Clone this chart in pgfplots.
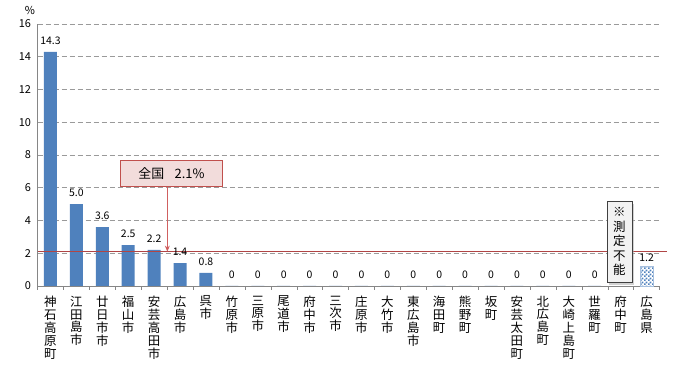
\documentclass[border=0pt]{standalone}
\usepackage{fontspec}
\setmainfont{Noto Sans CJK JP}
\usepackage{pgfplots}
\pgfplotsset{compat=1.18}
\usetikzlibrary{patterns.meta,shadows,arrows.meta}
\definecolor{barblue}{HTML}{4F81BD}
\definecolor{axisgray}{HTML}{868686}
\definecolor{gridgray}{HTML}{9A9A9A}
\definecolor{refred}{HTML}{B04545}
\definecolor{calloutfill}{HTML}{F2DCDB}
\definecolor{calloutborder}{HTML}{C0504D}
\definecolor{arrowred}{HTML}{D06060}
\tikzdeclarepattern{
  name=finecheck,
  type=uncolored,
  bottom left={(0,0)},
  top right={(4bp,4bp)},
  tile size={(4bp,4bp)},
  code={\fill (0,0) rectangle (2bp,2bp); \fill (2bp,2bp) rectangle (4bp,4bp);}
}
\begin{document}
\begin{tikzpicture}
\useasboundingbox (0,0) rectangle (691bp,365bp);
\begin{axis}[
  at={(37.5bp,79bp)}, anchor=south west,
  scale only axis, width=622bp, height=262bp,
  xmin=-0.5, xmax=23.5, ymin=0, ymax=16,
  clip=false,
  ytick={0,2,...,16},
  ymajorgrids, grid style={gridgray, line width=0.7bp, dash pattern=on 5bp off 3bp},
  axis x line*=bottom, axis y line*=left,
  axis line style={draw=axisgray, line width=0.8bp, -},
  ytick style={draw=none},
  xtick={0,...,23},
  major x tick style={draw=none},
  minor xtick={-0.5,0.5,...,23.5},
  minor tick length=4bp,
  xtick align=outside,
  minor x tick style={draw=axisgray},
  /pgf/number format/assume math mode=true,
  yticklabel style={font=\fontsize{11}{12}\selectfont, xshift=-3bp},
  xticklabel style={anchor=north, align=center, font=\fontsize{12.5}{13}\selectfont, yshift=-2bp},
  xticklabels={{神\\石\\高\\原\\町},{江\\田\\島\\市},{廿\\日\\市\\市},{福\\山\\市},{安\\芸\\高\\田\\市},{広\\島\\市},{呉\\市},{竹\\原\\市},{三\\原\\市},{尾\\道\\市},{府\\中\\市},{三\\次\\市},{庄\\原\\市},{大\\竹\\市},{東\\広\\島\\市},{海\\田\\町},{熊\\野\\町},{坂\\町},{安\\芸\\太\\田\\町},{北\\広\\島\\町},{大\\崎\\上\\島\\町},{世\\羅\\町},{府\\中\\町},{広\\島\\県}},
]
\addplot[ybar, bar width=13bp, bar shift=0pt, fill=barblue, draw=none,
  nodes near coords, point meta=explicit symbolic,
  nodes near coords style={font=\fontsize{10.5}{12}\selectfont, anchor=south, yshift=4bp}]
  coordinates {
  (0,14.3) [14.3]
  (1,5.0) [5.0]
  (2,3.6) [3.6]
  (3,2.5) [2.5]
  (4,2.2) [2.2]
  (5,1.4) [1.4]
  (6,0.8) [0.8]
  (7,0) [0]
  (8,0) [0]
  (9,0) [0]
  (10,0) [0]
  (11,0) [0]
  (12,0) [0]
  (13,0) [0]
  (14,0) [0]
  (15,0) [0]
  (16,0) [0]
  (17,0) [0]
  (18,0) [0]
  (19,0) [0]
  (20,0) [0]
  (21,0) [0]
  };
\addplot[ybar, bar width=13bp, bar shift=0pt, draw=barblue!50, pattern=finecheck, pattern color=barblue,
  nodes near coords, point meta=explicit symbolic,
  nodes near coords style={font=\fontsize{10.5}{12}\selectfont, anchor=south, yshift=1bp}]
  coordinates {(23,1.2) [1.2]};
\addplot[refred, line width=1bp] coordinates {(-0.5,2.1) (23.8,2.1)};
\draw[-{Stealth[length=6bp,width=5bp]}, arrowred, line width=0.8bp] (axis cs:4.51,6.10) -- (axis cs:4.51,2.1);
\node[draw=calloutborder, fill=calloutfill, minimum width=102bp, minimum height=26bp, font=\fontsize{13}{14}\selectfont] at (axis cs:4.67,6.89) {全国\hspace{0.8em}2.1\%};
\node[draw=black!75, fill=gray!10, drop shadow={shadow xshift=2.5bp, shadow yshift=-2.5bp, fill=gray!70}, minimum width=25bp, minimum height=81bp, align=center, inner sep=1bp, font=\fontsize{12.5}{14.5}\selectfont] at (axis cs:21.95,2.71) {※\\測\\定\\不\\能};
\node[font=\fontsize{11}{12}\selectfont] at (axis cs:-0.79,16.85) {\%};
\end{axis}
\end{tikzpicture}
\end{document}
